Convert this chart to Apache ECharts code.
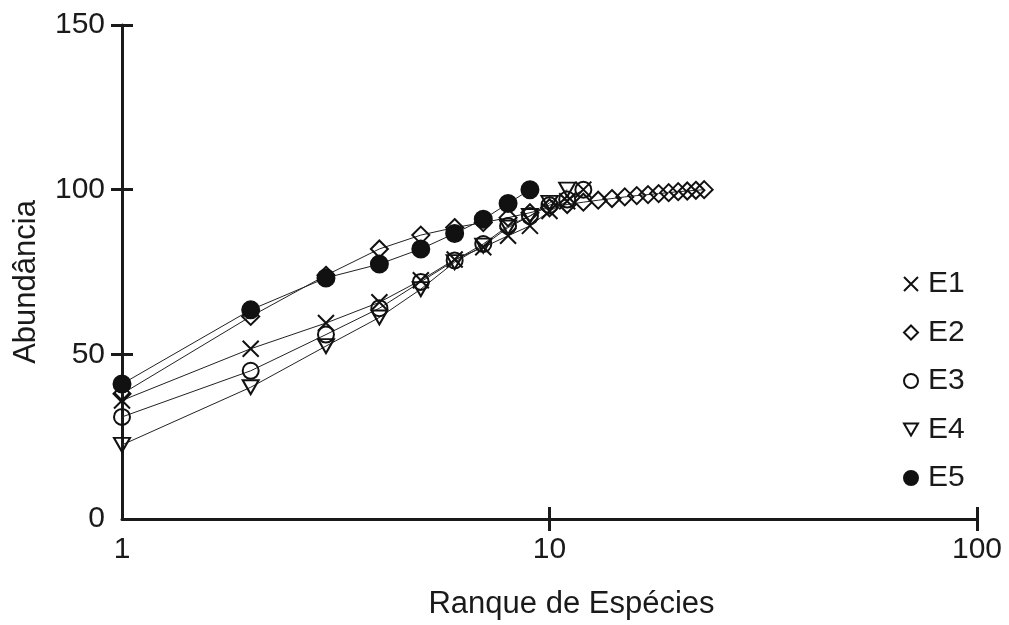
<!DOCTYPE html>
<html>
<head>
<meta charset="utf-8">
<script src="https://cdn.jsdelivr.net/npm/echarts@6/dist/echarts.min.js"></script>
<style>html,body{margin:0;padding:0;background:#fff}#c{width:1009px;height:625px}</style>
</head>
<body>
<div id="c"></div>
<script>
const seriesNames = ['E1','E2','E3','E4','E5'];
const e1 = [36, 51.7, 59.5, 65.8, 72.5, 78.8, 82.5, 86, 89, 93.5, 96.5, 100];
const e2 = [38, 61.5, 74, 82, 86.2, 88.5, 90, 91.5, 93, 94.5, 95.5, 96.2, 96.8, 97.3, 97.8, 98.2, 98.5, 98.8, 99.1, 99.4, 99.6, 99.8, 100];
const e3 = [31, 45, 56, 64, 72, 78.5, 83.5, 89, 92, 95.3, 97, 100];
const e4 = [22.5, 40, 52.5, 61.2, 69.8, 78, 83, 88.5, 92, 96, 100];
const e5 = [41, 63.5, 73.2, 77.4, 82, 86.7, 91, 95.8, 100];
const yTicks = [50, 100, 150];
const xTicks = [10, 100];

const allValues = [e1, e2, e3, e4, e5];
const XPATH = 'path://M0,0L10,10M10,0L0,10';
const TRI_DOWN = 'path://M0,0L10,0L5,8.66Z';
const symbols = [XPATH, 'diamond', 'circle', TRI_DOWN, 'circle'];
const sizes = [[16,16],[17,17],[16,16],[16,14],[17,17]];
const fills = ['rgba(0,0,0,0)','rgba(0,0,0,0)','rgba(0,0,0,0)','rgba(0,0,0,0)','#111'];
const ink = '#1a1a1a';
const font = 'Liberation Sans, Arial, sans-serif';

const series = allValues.map((vals, i) => ({
  name: seriesNames[i],
  type: 'line',
  xAxisIndex: 0,
  yAxisIndex: 0,
  data: vals.map((v, k) => [k + 1, v]),
  symbol: symbols[i],
  symbolSize: sizes[i],
  showAllSymbol: true,
  lineStyle: { color: '#222', width: 1 },
  itemStyle: { color: fills[i], borderColor: '#111', borderWidth: 2 },
  emphasis: { disabled: true },
  animation: false
}));

const chart = echarts.init(document.getElementById('c'), null, { renderer: 'canvas' });
chart.setOption({
  backgroundColor: '#fff',
  animation: false,
  grid: { left: 122, right: 32, top: 25, bottom: 104, containLabel: false },
  legend: {
    orient: 'vertical',
    left: 898,
    top: 264,
    itemWidth: 14,
    itemHeight: 14,
    itemGap: 18.5,
    selectedMode: false,
    textStyle: { fontFamily: font, fontSize: 30, color: ink, padding: [0,0,0,5] },
    data: seriesNames.map((n, i) => ({
      name: n,
      icon: symbols[i],
      itemStyle: { color: fills[i], borderColor: '#111', borderWidth: 2 }
    }))
  },
  xAxis: [{
    type: 'log',
    logBase: 10,
    min: 1,
    max: 100,
    position: 'bottom',
    offset: 0,
    name: 'Ranque de Espécies',
    nameLocation: 'middle',
    nameGap: 70,
    nameTextStyle: { fontFamily: font, fontSize: 31, color: ink, padding: [0,0,0,44] },
    axisLine: { show: true, lineStyle: { color: ink, width: 3 } },
    axisTick: { show: true, inside: true, length: 12, customValues: xTicks, lineStyle: { color: ink, width: 3 } },
    axisLabel: { fontFamily: font, fontSize: 30, color: ink, margin: 16 },
    splitLine: { show: false }
  }, {
    type: 'log',
    logBase: 10,
    min: 1,
    max: 100,
    position: 'bottom',
    offset: 0,
    axisLine: { show: false },
    axisTick: { show: true, inside: false, length: 12, customValues: xTicks, lineStyle: { color: ink, width: 3 } },
    axisLabel: { show: false },
    splitLine: { show: false }
  }],
  yAxis: [{
    type: 'value',
    min: 0,
    max: 150,
    interval: 50,
    position: 'left',
    name: 'Abundância',
    nameLocation: 'middle',
    nameGap: 80,
    nameRotate: 90,
    nameTextStyle: { fontFamily: font, fontSize: 31, color: ink, padding: [0,20,0,0] },
    axisLine: { show: true, lineStyle: { color: ink, width: 3 } },
    axisTick: { show: true, length: 11, customValues: yTicks, lineStyle: { color: ink, width: 3 } },
    axisLabel: { fontFamily: font, fontSize: 30, color: ink, margin: 17 },
    splitLine: { show: false }
  }, {
    type: 'value',
    min: 0,
    max: 150,
    interval: 50,
    position: 'left',
    axisLine: { show: false },
    axisTick: { show: true, inside: true, length: 11, customValues: yTicks, lineStyle: { color: ink, width: 3 } },
    axisLabel: { show: false },
    splitLine: { show: false }
  }],
  series: series
});
</script>
</body>
</html>
